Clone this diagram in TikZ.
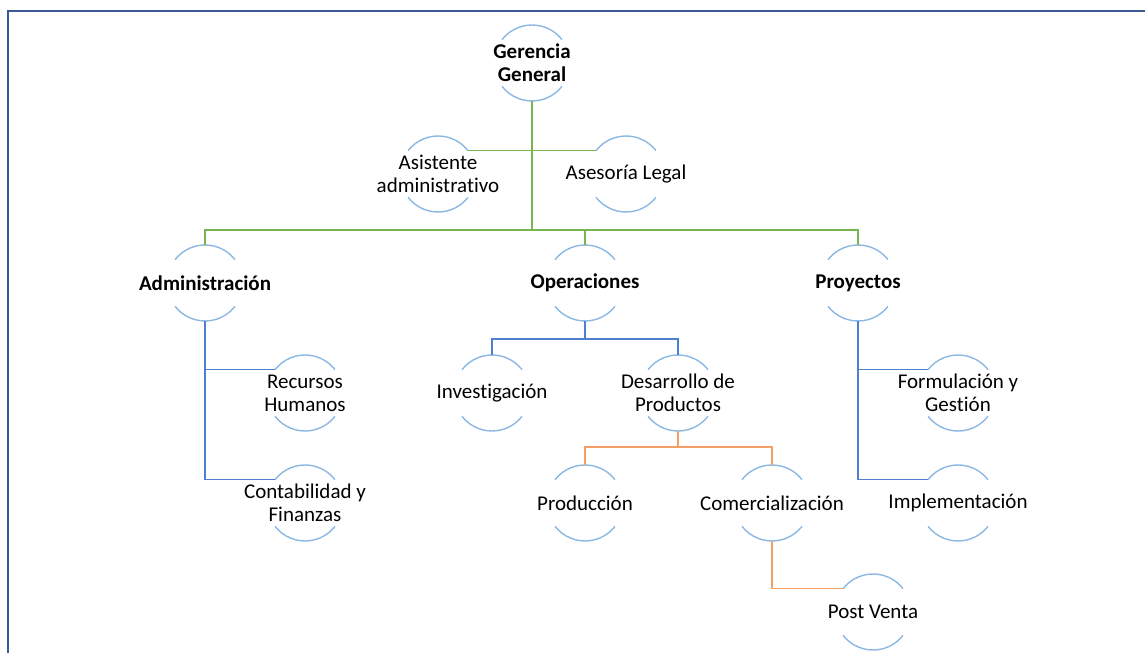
\documentclass[tikz,border=0pt]{standalone}
\usepackage{fontspec}
\setmainfont[Ligatures=NoCommon]{Carlito}

\definecolor{arcblue}{HTML}{8AB8E3}
\definecolor{busgreen}{HTML}{78B450}
\definecolor{busblue}{HTML}{4F7FD0}
\definecolor{busorange}{HTML}{F2A066}
\definecolor{framblue}{HTML}{3A5797}

\tikzset{
  unit/.style={rectangle, inner sep=0pt, minimum width=76pt, minimum height=76pt,
    align=center, font=\fontsize{21}{23}\selectfont},
  head/.style={unit, font=\fontsize{21}{23}\selectfont\bfseries},
  arcline/.style={draw=arcblue, line width=1.4pt},
  greenline/.style={draw=busgreen, line width=1.5pt},
  blueline/.style={draw=busblue, line width=1.5pt},
  orangeline/.style={draw=busorange, line width=1.5pt}
}

\begin{document}
\begin{tikzpicture}[x=1pt,y=1pt]
\useasboundingbox (0,0) rectangle (1145,653);

%draw frame
\draw[framblue, line width=2pt] (7.5,0) -- (7.5,641.5) -- (1145,641.5);

%top levels
\node[head] (gg) at (532,590) {Gerencia\\General};
\node[unit] (asis) at (438,479) {Asistente\\administrativo};
\node[unit] (ases) at (626,479) {Asesoría Legal};

\node[head] (adm) at (205,370) {Administración};
\node[head] (ope) at (585,370) {Operaciones};
\node[head] (pro) at (858,370) {Proyectos};

%lower levels
\node[unit] (rh) at (305,260) {Recursos\\Humanos};
\node[unit] (cf) at (305,150) {Contabilidad y\\Finanzas};
\node[unit] (inv) at (492,260) {Investigación};
\node[unit] (des) at (678,260) {Desarrollo de\\Productos};
\node[unit] (prod) at (585,150) {Producción};
\node[unit] (com) at (772,150) {Comercialización};
\node[unit] (fg) at (958,260) {Formulación y\\Gestión};
\node[unit] (imp) at (958,150) {Implementación};
\node[unit] (pv) at (873,41) {Post Venta};

%draw arcs above and below
\foreach \n in {gg,asis,ases,adm,ope,pro,rh,cf,inv,des,prod,com,fg,imp,pv}
{
\draw[arcline] ([shift={(142:38pt)}]\n.center) arc[start angle=142, end angle=38, radius=38pt];
\draw[arcline] ([shift={(218:38pt)}]\n.center) arc[start angle=218, end angle=322, radius=38pt];
\coordinate (\n-tl) at ([shift={(142:38pt)}]\n.center);
\coordinate (\n-tr) at ([shift={(38:38pt)}]\n.center);
}

%bus points
\coordinate (ggbus) at (532,423);
\coordinate (opebus) at (585,314);
\coordinate (desbus) at (678,206);

%green connectors
\draw[greenline] (gg.south) -- (ggbus);
\draw[greenline] (asis-tr) -- (ases-tl);
\draw[greenline] (adm.north) |- (ggbus) -| (pro.north);
\draw[greenline] (ope.north) -- (ope.north |- ggbus);

%blue connectors
\draw[blueline] (adm.south) |- (rh-tl);
\draw[blueline] (adm.south) |- (cf-tl);
\draw[blueline] (ope.south) -- (opebus);
\draw[blueline] (inv.north) |- (opebus) -| (des.north);
\draw[blueline] (pro.south) |- (fg-tl);
\draw[blueline] (pro.south) |- (imp-tl);

%orange connectors
\draw[orangeline] (des.south) -- (desbus);
\draw[orangeline] (prod.north) |- (desbus) -| (com.north);
\draw[orangeline] (com.south) |- (pv-tl);
\end{tikzpicture}
\end{document}
